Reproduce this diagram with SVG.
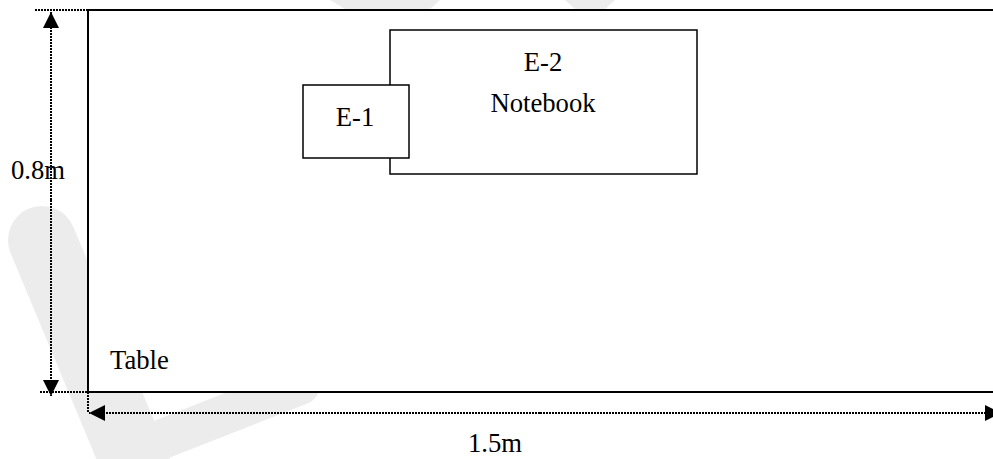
<svg xmlns="http://www.w3.org/2000/svg" width="993" height="459" viewBox="0 0 993 459">
  <style>
    .lbl { font-family: "Liberation Serif", "Times New Roman", serif; font-size: 26.67px; fill: #000; }
    .box { fill: #fff; stroke: #000; stroke-width: 1.5; }
    .dim { fill: none; stroke: #000; stroke-width: 2; stroke-dasharray: 2 1; }
    .wm { fill: none; stroke: #ececec; stroke-linecap: round; }
  </style>
  <defs>
    <marker id="arr" viewBox="0 0 16 16" refX="16" refY="8" markerWidth="16" markerHeight="16" markerUnits="userSpaceOnUse" orient="auto">
      <path d="M0,0 L16,8 L0,16 Z" fill="#000"/>
    </marker>
  </defs>
  <rect x="0" y="0" width="993" height="459" fill="#fff"/>
  <g id="watermark">
    <line class="wm" x1="42" y1="240" x2="142" y2="480" stroke-width="68"/>
    <line class="wm" x1="160" y1="440" x2="300" y2="385" stroke-width="40"/>
    <path d="M330,0 L440,0 L430,9 L345,9 Z" fill="#ececec"/>
    <path d="M565,0 L615,0 L605,9 L575,9 Z" fill="#ececec"/>
  </g>
  <g id="table">
    <rect x="88" y="10" width="920" height="382" fill="#fff" stroke="#000" stroke-width="2"/>
    <text class="lbl" x="110" y="369">Table</text>
  </g>
  <g id="E-2">
    <rect class="box" x="390" y="30" width="307" height="144"/>
    <text class="lbl" x="543" y="71" text-anchor="middle">E-2</text>
    <text class="lbl" x="543" y="112" text-anchor="middle">Notebook</text>
  </g>
  <g id="E-1">
    <rect class="box" x="303" y="85" width="106" height="73"/>
    <text class="lbl" x="355" y="126" text-anchor="middle">E-1</text>
  </g>
  <g id="connectors">
    <line class="dim" x1="35" y1="10" x2="105" y2="10"/>
    <line class="dim" x1="40" y1="392" x2="110" y2="392"/>
    <line class="dim" x1="88" y1="392" x2="88" y2="413"/>
    <line class="dim" x1="51" y1="200" x2="51" y2="12" marker-end="url(#arr)"/>
    <line class="dim" x1="51" y1="200" x2="51" y2="396" marker-end="url(#arr)"/>
    <line class="dim" x1="540" y1="413" x2="89" y2="413" marker-end="url(#arr)"/>
    <line class="dim" x1="540" y1="413" x2="1001" y2="413" marker-end="url(#arr)"/>
  </g>
  <g id="dimension-labels">
    <text class="lbl" x="11" y="179">0.8m</text>
    <text class="lbl" x="495" y="452" text-anchor="middle">1.5m</text>
  </g>
</svg>
